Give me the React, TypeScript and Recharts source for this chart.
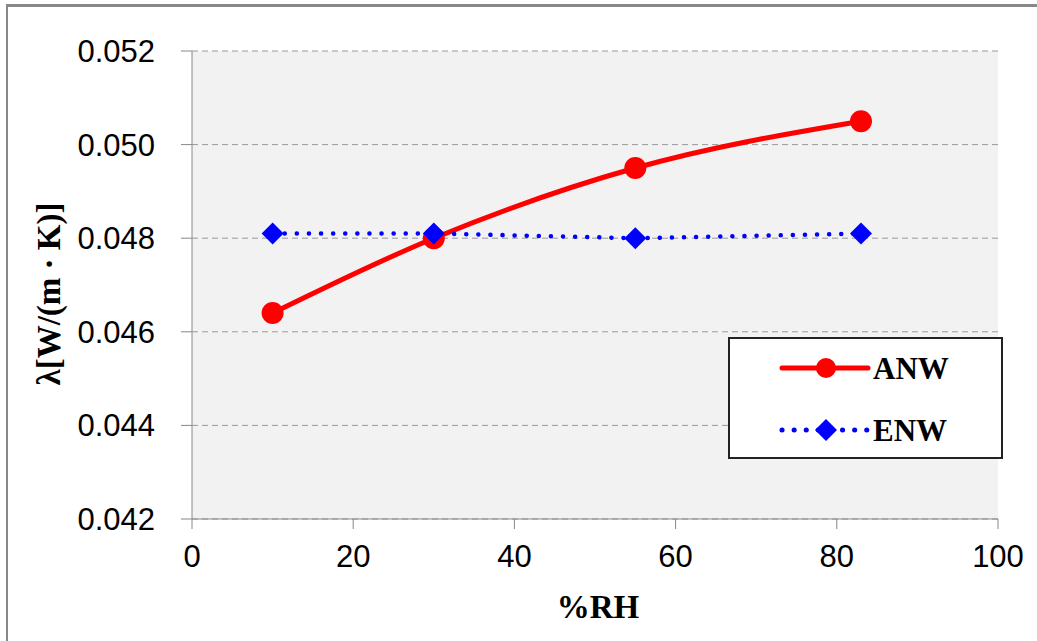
import React from "react"
import {
  LineChart,
  Line,
  XAxis,
  YAxis,
  CartesianGrid,
  Label,
} from "recharts"

// %RH values and thermal conductivity readings
const RH = [10, 30, 55, 83]
const ANW = [0.0464, 0.048, 0.0495, 0.0505]
const ENW = [0.0481, 0.0481, 0.048, 0.0481]

const X_TICKS = [0, 20, 40, 60, 80, 100]
const Y_TICKS = [0.042, 0.044, 0.046, 0.048, 0.05, 0.052]

const SERIES = [
  { key: "anw", name: "ANW", color: "#ff0000" },
  { key: "enw", name: "ENW", color: "#0000ff" },
]

const data = RH.map((rh, i) => ({ rh, anw: ANW[i], enw: ENW[i] }))

const SANS = '"Liberation Sans", Arial, sans-serif'
const SERIF = '"Liberation Serif", "Times New Roman", serif'

const Diamond = (props: any) => {
  const { cx, cy, fill } = props
  if (cx == null || cy == null) return null
  const s = 11
  return (
    <polygon
      points={`${cx},${cy - s} ${cx + s},${cy} ${cx},${cy + s} ${cx - s},${cy}`}
      fill={fill}
    />
  )
}

function ChartLegend() {
  return (
    <div
      style={{
        position: "absolute",
        left: 728,
        top: 337,
        width: 271,
        height: 118,
        border: "2px solid #222",
        background: "#fff",
      }}
    >
      <svg width={271} height={118}>
        {/* ANW */}
        <line x1={52} y1={29} x2={138} y2={29} stroke={SERIES[0].color} strokeWidth={5} strokeLinecap="round" />
        <circle cx={96} cy={29} r={10} fill={SERIES[0].color} />
        <text x={143} y={40} fontFamily={SERIF} fontWeight="bold" fontSize={31} fill="#000">
          {SERIES[0].name}
        </text>
        {/* ENW */}
        <line
          x1={52}
          y1={91}
          x2={138}
          y2={91}
          stroke={SERIES[1].color}
          strokeWidth={5}
          strokeDasharray="0.1 12"
          strokeLinecap="round"
        />
        <Diamond cx={96} cy={91} fill={SERIES[1].color} />
        <text x={143} y={102} fontFamily={SERIF} fontWeight="bold" fontSize={31} fill="#000">
          {SERIES[1].name}
        </text>
      </svg>
    </div>
  )
}

export default function App() {
  return (
    <div
      style={{
        position: "absolute",
        left: 0,
        top: 0,
        width: 1037,
        height: 641,
        background: "#fff",
        overflow: "hidden",
      }}
    >
      {/* outer frame (left, top, bottom edges only) */}
      <div
        style={{
          position: "absolute",
          left: 6,
          top: 4,
          width: 1040,
          height: 634,
          borderLeft: "2px solid #888",
          borderTop: "3px solid #888",
          borderBottom: "2px solid #888",
        }}
      />
      <LineChart
        width={1037}
        height={641}
        data={data}
        margin={{ top: 51, right: 39, left: 0, bottom: 0 }}
        style={{ position: "absolute", left: 0, top: 0 }}
      >
        <CartesianGrid
          vertical={false}
          stroke="#999"
          strokeDasharray="6 4"
          fill="#f2f2f2"
        />
        <XAxis
          dataKey="rh"
          type="number"
          domain={[0, 100]}
          ticks={X_TICKS}
          height={122}
          stroke="#888"
          tickSize={10}
          tickMargin={16}
          tick={{ fill: "#000", fontSize: 31, fontFamily: SANS }}
        >
          <Label
            content={(p: any) => {
              const vb = p.viewBox
              return (
                <text
                  x={vb.x + vb.width / 2 + 3}
                  y={vb.y + 99}
                  textAnchor="middle"
                  fontFamily={SERIF}
                  fontWeight="bold"
                  fontSize={33}
                  fill="#000"
                >
                  %RH
                </text>
              )
            }}
          />
        </XAxis>
        <YAxis
          type="number"
          domain={[0.042, 0.052]}
          ticks={Y_TICKS}
          width={192}
          stroke="#888"
          tickSize={11}
          tickMargin={26}
          tickFormatter={(v: number) => v.toFixed(3)}
          tick={{ fill: "#000", fontSize: 31, fontFamily: SANS }}
        >
          <Label
            content={(p: any) => {
              const vb = p.viewBox
              const cx = 49
              const cy = vb.y + vb.height / 2 + 9
              return (
                <text
                  x={cx}
                  y={cy}
                  transform={`rotate(-90 ${cx} ${cy})`}
                  textAnchor="middle"
                  dominantBaseline="central"
                  fontFamily={SERIF}
                  fontWeight="bold"
                  fontSize={33}
                  fill="#000"
                >
                  λ[W/(m · K)]
                </text>
              )
            }}
          />
        </YAxis>
        <Line
          dataKey="anw"
          name="ANW"
          type="monotone"
          stroke={SERIES[0].color}
          strokeWidth={5}
          dot={{ r: 11, fill: SERIES[0].color, stroke: "none" }}
          isAnimationActive={false}
        />
        <Line
          dataKey="enw"
          name="ENW"
          type="linear"
          stroke={SERIES[1].color}
          strokeWidth={4.5}
          strokeDasharray="0.1 12"
          strokeLinecap="round"
          dot={(p: any) => <Diamond key={`d-${p.index}`} cx={p.cx} cy={p.cy} fill={SERIES[1].color} />}
          isAnimationActive={false}
        />
      </LineChart>
      <ChartLegend />
    </div>
  )
}
